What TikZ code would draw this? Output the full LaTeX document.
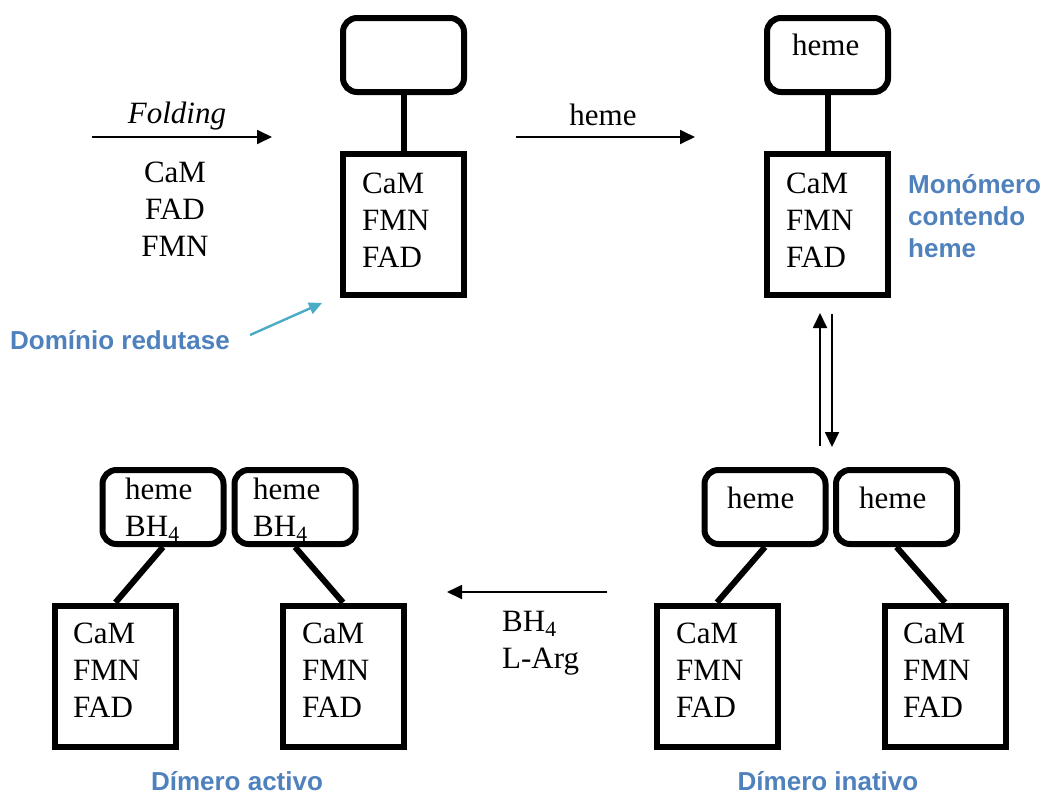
\documentclass[tikz,border=0pt]{standalone}
\usepackage{fontspec}
\setmainfont{Liberation Serif}
\newfontfamily\labelfont{Liberation Sans}
\usetikzlibrary{arrows.meta}
\definecolor{labelblue}{RGB}{79,129,189}
\definecolor{pointcyan}{RGB}{75,172,198}

\begin{document}
\begin{tikzpicture}[x=1pt,y=-1pt,
  hemebox/.style={draw, line width=6pt, rounded corners=14pt, minimum width=121pt, minimum height=74pt},
  redbox/.style={draw, line width=6pt, minimum width=121pt, minimum height=141pt},
  stem/.style={line width=6pt},
  txt/.style={font=\fontsize{31}{37}\selectfont, align=left, inner sep=0pt, anchor=base west},
  react/.style={line width=1.8pt, -{Triangle[length=15pt, width=14pt]}},
  tag/.style={font=\labelfont\bfseries\fontsize{26}{32}\selectfont, text=labelblue, align=left, inner sep=0pt, anchor=base west}]
\useasboundingbox (0,0) rectangle (1046,796);

% folding step (multi-line texts sit on their last baseline)
\coordinate (foldA) at (92,137);
\coordinate (foldB) at (272,137);
\draw[react] (foldA) -- (foldB);
\node[txt, anchor=base, font=\fontsize{31}{37}\selectfont\itshape] (foldtxt) at (177,123) {Folding};
\node[txt, anchor=base, align=center] (cofact) at (175,256) {CaM\\FAD\\FMN};

% monomer without heme
\node[hemebox] (hemeM1) at (403.5,55) {};
\node[redbox] (redM1) at (403.5,224.5) {};
\draw[stem] (hemeM1.south) -- (redM1.north);
\node[txt] (redM1txt) at (362,267) {CaM\\FMN\\FAD};

% reductase pointer
\node[tag] (redtag) at (10,349) {Domínio redutase};
\coordinate (ptrA) at (250,335);
\coordinate (ptrB) at (322,303);
\draw[pointcyan, line width=2.4pt, -{Triangle[length=13pt, width=12pt]}] (ptrA) -- (ptrB);

% heme step
\coordinate (hemeA) at (516,137);
\coordinate (hemeB) at (695,137);
\draw[react] (hemeA) -- (hemeB);
\node[txt, anchor=base] (hemetxt) at (603,125) {heme};

% monomer with heme
\node[hemebox] (hemeM2) at (827.5,55) {};
\node[txt] (hemeM2txt) at (792,55) {heme};
\node[redbox] (redM2) at (827.5,224.5) {};
\draw[stem] (hemeM2.south) -- (redM2.north);
\node[txt] (redM2txt) at (786,267) {CaM\\FMN\\FAD};
\node[tag] (montag) at (908,257) {Monómero\\contendo\\heme};

% equilibrium
\coordinate (eqA) at (820,446);
\coordinate (eqB) at (820,313);
\coordinate (eqC) at (832,314);
\coordinate (eqD) at (832,447);
\draw[react] (eqA) -- (eqB);
\draw[react] (eqC) -- (eqD);

% inactive dimer
\node[hemebox] (hemeI1) at (765,507) {};
\node[hemebox] (hemeI2) at (896.5,507) {};
\node[txt] (hemeI1txt) at (727,508) {heme};
\node[txt] (hemeI2txt) at (859,508) {heme};
\node[redbox] (redI1) at (717,676) {};
\node[redbox] (redI2) at (945,676) {};
\draw[stem] (hemeI1.south) -- (redI1.north);
\draw[stem] (hemeI2.south) -- (redI2.north);
\node[txt] (redI1txt) at (676,717) {CaM\\FMN\\FAD};
\node[txt] (redI2txt) at (903,717) {CaM\\FMN\\FAD};
\node[tag, anchor=base] (inattag) at (828,790) {Dímero inativo};

% activation step
\coordinate (actA) at (607,592);
\coordinate (actB) at (447,592);
\draw[react] (actA) -- (actB);
\node[txt] (acttxt) at (502,668) {BH\textsubscript{4}\\L-Arg};

% active dimer
\node[hemebox] (hemeA1) at (163,507) {};
\node[hemebox] (hemeA2) at (295,507) {};
\node[txt] (hemeA1txt) at (125,536) {heme\\BH\textsubscript{4}};
\node[txt] (hemeA2txt) at (253,536) {heme\\BH\textsubscript{4}};
\node[redbox] (redA1) at (115.5,676) {};
\node[redbox] (redA2) at (343,676) {};
\draw[stem] (hemeA1.south) -- (redA1.north);
\draw[stem] (hemeA2.south) -- (redA2.north);
\node[txt] (redA1txt) at (73,717) {CaM\\FMN\\FAD};
\node[txt] (redA2txt) at (302,717) {CaM\\FMN\\FAD};
\node[tag, anchor=base] (acttag) at (237,790) {Dímero activo};
\end{tikzpicture}
\end{document}
